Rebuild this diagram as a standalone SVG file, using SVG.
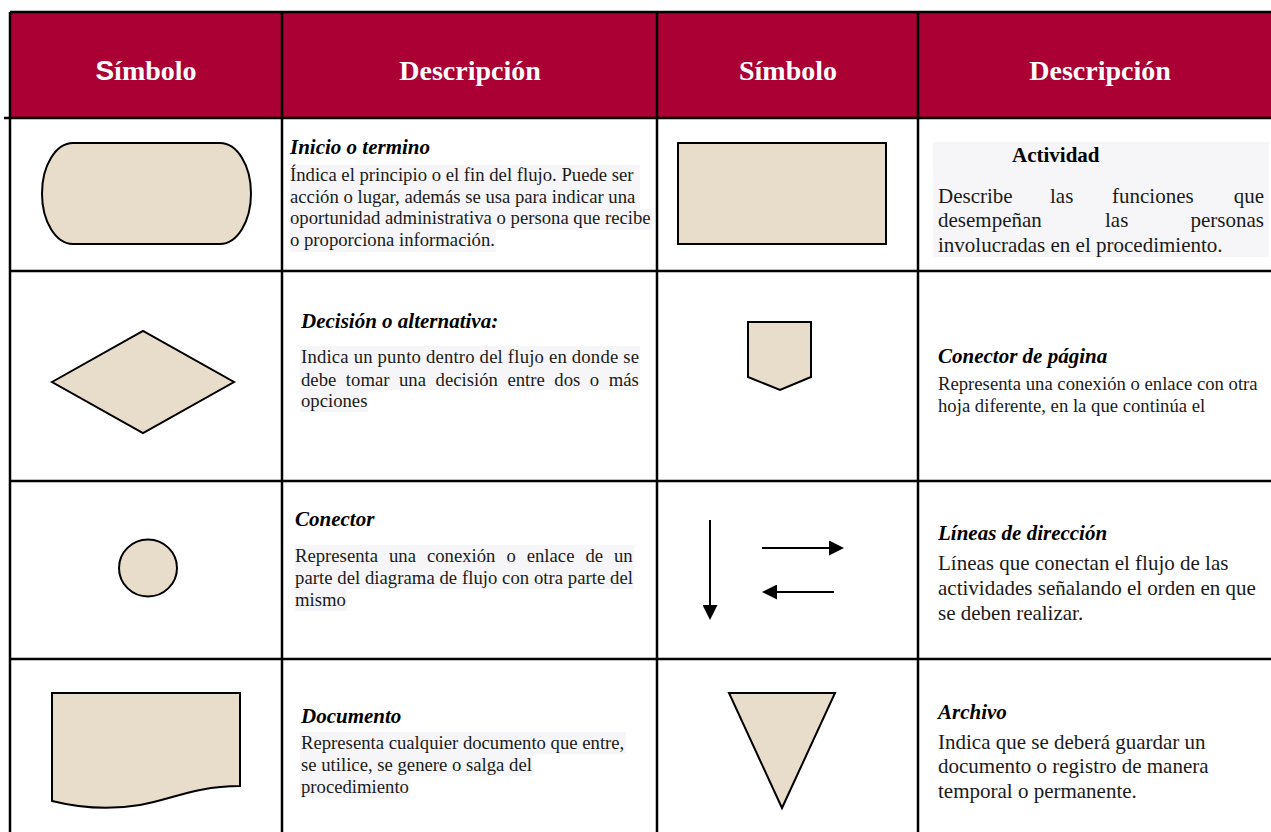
<svg xmlns="http://www.w3.org/2000/svg" width="1271" height="832" viewBox="0 0 1271 832">
<defs>
<style>
.hdr{fill:#AA0033}
.grid{stroke:#000;stroke-width:2.5;fill:none}
.th{font-family:"Liberation Serif","Times New Roman",serif;font-weight:bold;font-size:28px;fill:#fff;text-anchor:middle}
.sh{fill:#E8DCCA;stroke:#000;stroke-width:2}
.ttl{font-family:"Liberation Serif","Times New Roman",serif;font-weight:bold;font-style:italic;font-size:21px;fill:#000}
.b19{font-family:"Liberation Serif","Times New Roman",serif;font-size:18.7px;fill:#1a1a1a}
.b21{font-family:"Liberation Serif","Times New Roman",serif;font-size:21px;fill:#1a1a1a}
.bg{fill:#F6F6F8}
.arr{stroke:#000;stroke-width:2;fill:none}
</style>
<marker id="ah" viewBox="0 0 15 15" markerWidth="15" markerHeight="15" refX="0" refY="7.5" orient="auto" markerUnits="userSpaceOnUse">
<path d="M0,0 L15,7.5 L0,15 Z" fill="#000"/>
</marker>
</defs>
<rect width="1271" height="832" fill="#fff"/>

<g id="header">
<rect class="hdr" x="10" y="12" width="1261" height="106"/>
<text class="th" x="146" y="80"><tspan font-family="'Liberation Sans',Arial,sans-serif">S</tspan>ímbolo</text>
<text class="th" x="470" y="80">Descripción</text>
<text class="th" x="788" y="80">Símbolo</text>
<text class="th" x="1100" y="80">Descripción</text>
</g>

<g id="grid">
<line class="grid" x1="10" y1="12" x2="1271" y2="12"/>
<line class="grid" x1="4" y1="118" x2="1271" y2="118"/>
<line class="grid" x1="10" y1="271" x2="1271" y2="271"/>
<line class="grid" x1="10" y1="481" x2="1271" y2="481"/>
<line class="grid" x1="10" y1="659" x2="1271" y2="659"/>
<line class="grid" x1="10" y1="12" x2="10" y2="832"/>
<line class="grid" x1="282" y1="12" x2="282" y2="832"/>
<line class="grid" x1="657" y1="12" x2="657" y2="832"/>
<line class="grid" x1="918" y1="12" x2="918" y2="832"/>
</g>

<g id="inicio">
<path class="sh" d="M73,143 H220 A31,50.5 0 0 1 220,244 H73 A31,50.5 0 0 1 73,143 Z"/>
<text class="ttl" x="290" y="154">Inicio o termino</text>
<rect class="bg" x="290" y="165" width="350" height="22"/>
<rect class="bg" x="290" y="187" width="350" height="22"/>
<rect class="bg" x="290" y="209" width="362" height="21"/>
<rect class="bg" x="290" y="230" width="206" height="22"/>
<text class="b19" x="290" y="181">Índica el principio o el fin del flujo. Puede ser</text>
<text class="b19" x="290" y="203">acción o lugar, además se usa para indicar una</text>
<text class="b19" x="290" y="224">oportunidad administrativa o persona que recibe</text>
<text class="b19" x="290" y="246">o proporciona información.</text>
</g>

<g id="actividad">
<rect class="sh" x="678" y="143" width="208" height="101"/>
<rect class="bg" x="933" y="142" width="336" height="115"/>
<text x="1012" y="162" font-family="'Liberation Serif','Times New Roman',serif" font-weight="bold" font-size="21px" fill="#000">Actividad</text>
<text class="b21" y="203"><tspan x="938">Describe</tspan><tspan x="1050">las</tspan><tspan x="1112">funciones</tspan><tspan x="1264" text-anchor="end">que</tspan></text>
<text class="b21" y="227"><tspan x="938">desempeñan</tspan><tspan x="1105">las</tspan><tspan x="1264" text-anchor="end">personas</tspan></text>
<text class="b21" x="938" y="252">involucradas en el procedimiento.</text>
</g>

<g id="decision">
<polygon class="sh" points="52,382 143,331 234,382 143,433"/>
<text class="ttl" x="301" y="328">Decisión o alternativa:</text>
<rect class="bg" x="300" y="346" width="340" height="22"/>
<rect class="bg" x="300" y="368" width="340" height="22"/>
<rect class="bg" x="300" y="390" width="68" height="22"/>
<text class="b19" x="301" y="363" textLength="338">Indica un punto dentro del flujo en donde se</text>
<text class="b19" x="301" y="386" word-spacing="4.9">debe tomar una decisión entre dos o más</text>
<text class="b19" x="301" y="407">opciones</text>
</g>

<g id="conector-pagina">
<path class="sh" d="M748,322 H811 V377 L780,390 L748,377 Z"/>
<text class="ttl" x="938" y="363">Conector de página</text>
<text class="b19" x="938" y="390">Representa una conexión o enlace con otra</text>
<text class="b19" x="938" y="412">hoja diferente, en la que continúa el</text>
</g>

<g id="conector">
<ellipse class="sh" cx="148" cy="568" rx="29" ry="28.5"/>
<text class="ttl" x="295" y="526">Conector</text>
<rect class="bg" x="295" y="545" width="339" height="22"/>
<rect class="bg" x="295" y="567" width="339" height="22"/>
<rect class="bg" x="295" y="589" width="52" height="22"/>
<text class="b19" x="295" y="562" word-spacing="6.3">Representa una conexión o enlace de un</text>
<text class="b19" x="295" y="584" textLength="338">parte del diagrama de flujo con otra parte del</text>
<text class="b19" x="295" y="606">mismo</text>
</g>

<g id="lineas-direccion">
<line class="arr" x1="710" y1="520" x2="710" y2="605" marker-end="url(#ah)"/>
<line class="arr" x1="762" y1="548" x2="829" y2="548" marker-end="url(#ah)"/>
<line class="arr" x1="834" y1="592" x2="777" y2="592" marker-end="url(#ah)"/>
<text class="ttl" x="938" y="540">Líneas de dirección</text>
<text class="b21" x="938" y="570">Líneas que conectan el flujo de las</text>
<text class="b21" x="938" y="595">actividades señalando el orden en que</text>
<text class="b21" x="938" y="620">se deben realizar.</text>
</g>

<g id="documento">
<path class="sh" d="M52,693 H240 V786 C195,786 170,800 140,805 C110,810 80,808 52,801 Z"/>
<text class="ttl" x="301" y="723">Documento</text>
<rect class="bg" x="300" y="732" width="326" height="22"/>
<rect class="bg" x="300" y="754" width="233" height="22"/>
<rect class="bg" x="300" y="776" width="110" height="22"/>
<text class="b19" x="301" y="749">Representa cualquier documento que entre,</text>
<text class="b19" x="301" y="771">se utilice, se genere o salga del</text>
<text class="b19" x="301" y="793">procedimiento</text>
</g>

<g id="archivo">
<polygon class="sh" points="729,693 835,693 782,808"/>
<text class="ttl" x="938" y="719">Archivo</text>
<text class="b21" x="938" y="749">Indica que se deberá guardar un</text>
<text class="b21" x="938" y="773">documento o registro de manera</text>
<text class="b21" x="938" y="798">temporal o permanente.</text>
</g>
</svg>
